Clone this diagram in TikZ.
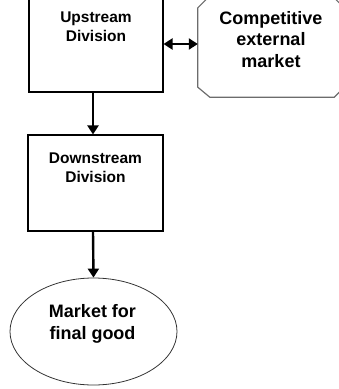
\documentclass[tikz,border=0pt]{standalone}
\usepackage{fontspec}
\setmainfont{Liberation Sans}
\usetikzlibrary{arrows.meta,shapes.geometric}
\tikzset{
  divbox/.style={draw, line width=1.1pt, inner sep=0pt},
  divlabel/.style={font=\bfseries\fontsize{15.5}{19}\selectfont, align=center, inner sep=0pt, anchor=north},
  mktlabel/.style={font=\bfseries\fontsize{18}{21.5}\selectfont, align=center, inner sep=0pt, anchor=north},
  flow/.style={line width=2.4pt, -{Triangle[length=9pt,width=11pt]}},
}
\begin{document}
\begin{tikzpicture}[x=1pt, y=-1pt]
  \useasboundingbox (0,0) rectangle (339,389);
  % Divisions
  \node[divbox, minimum width=134pt, minimum height=94pt] (up) at (96,45) {};
  \node[divlabel] (uplbl) at (96,11.8) {Upstream\\Division};
  \node[divbox, minimum width=135pt, minimum height=96pt] (dn) at (95.5,183) {};
  \node[divlabel] (dnlbl) at (95.5,152.6) {Downstream\\Division};
  % Markets
  \node[inner sep=0pt, minimum width=146pt, minimum height=99pt] (ext) at (271,47.5) {};
  \draw[draw=gray!85!black, line width=1.2pt]
    ([yshift=-10pt]ext.north west) -- ([xshift=10pt]ext.north west)
    -- ([xshift=-10pt]ext.north east) -- ([yshift=-10pt]ext.north east)
    -- ([yshift=10pt]ext.south east) -- ([xshift=-10pt]ext.south east)
    -- ([xshift=12pt]ext.south west) -- ([yshift=10pt]ext.south west) -- cycle;
  \node[mktlabel] (extlbl) at (271,10.9) {Competitive\\external\\market};
  \node[ellipse, draw=black!80, line width=0.8pt, inner sep=0pt,
        minimum width=167pt, minimum height=107pt] (fin) at (93.5,331.5) {};
  \node[mktlabel] (finlbl) at (92.5,304.4) {Market for\\final good};
  % Flows
  \draw[line width=2.4pt, {Triangle[length=9pt,width=11pt]}-{Triangle[length=9pt,width=11pt]}] (up.east |- 0,44) -- (ext.west |- 0,44);
  \draw[flow] (up.south -| 93,0) -- (dn.north -| 93,0);
  \draw[flow] (dn.south -| 93,0) -- (fin.north);
\end{tikzpicture}
\end{document}
